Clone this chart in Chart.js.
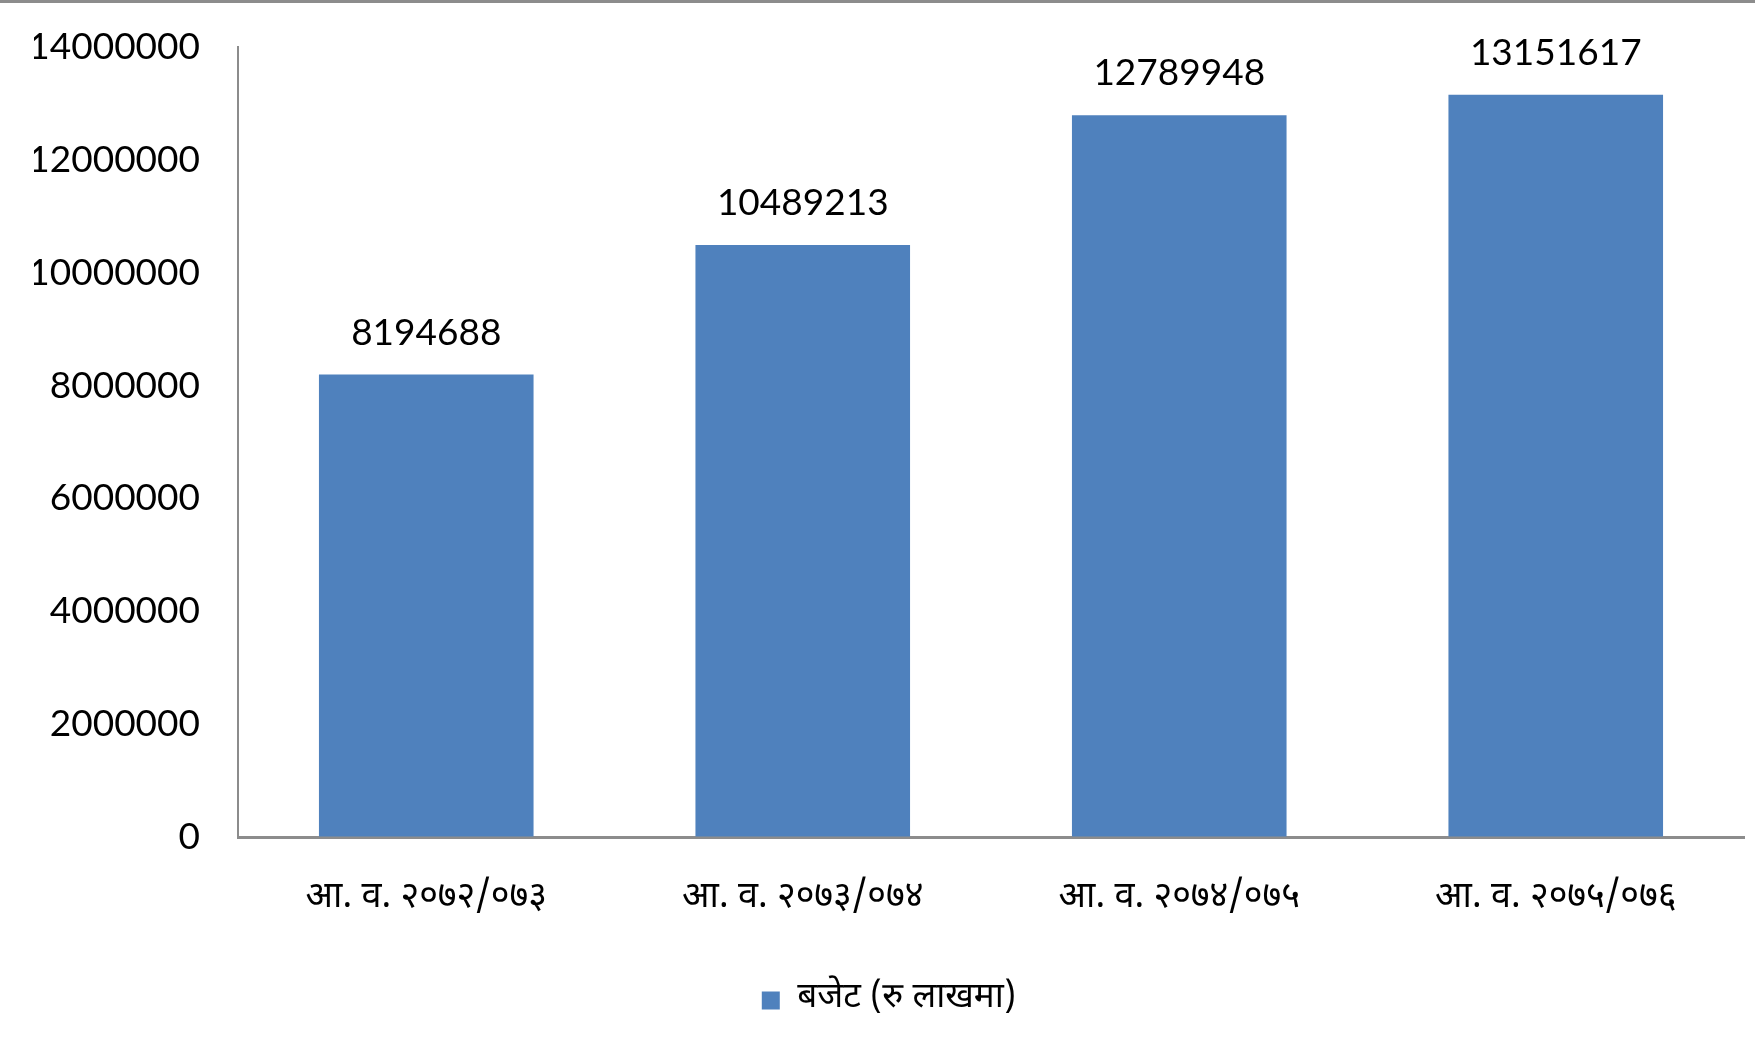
<!DOCTYPE html>
<html>
<head>
<meta charset="utf-8">
<script src="https://cdn.jsdelivr.net/npm/chart.js@4"></script>
<style>
    html, body { margin: 0; padding: 0; background: #fff; }
    #wrap { width: 1755px; height: 1044px; position: relative; box-sizing: border-box; border-top: 3px solid #8c8c8c; }
</style>
</head>
<body>
<div id="wrap"><canvas id="budgetChart" width="1755" height="1041"></canvas></div>
<script>
// values
const years = ['आ. व. २०७२/०७३', 'आ. व. २०७३/०७४', 'आ. व. २०७४/०७५', 'आ. व. २०७५/०७६'];
const budget = [8194688, 10489213, 12789948, 13151617];
const seriesName = 'बजेट (रु लाखमा)';
const yTicks = [0, 2000000, 4000000, 6000000, 8000000, 10000000, 12000000, 14000000];

const numFont = { family: 'Lato, "Open Sans", sans-serif', size: 37 };
const devFont = { family: '"Noto Sans Devanagari", "Noto Sans", sans-serif', size: 36 };
const legendFont = { family: '"Noto Sans Devanagari", "Noto Sans", sans-serif', size: 35 };

// draws the value above each bar
const barValues = {
    id: 'barValues',
    afterDatasetsDraw(chart) {
        const ctx = chart.ctx;
        const meta = chart.getDatasetMeta(0);
        ctx.save();
        ctx.font = numFont.size + 'px ' + numFont.family;
        ctx.fillStyle = '#000';
        ctx.textAlign = 'center';
        ctx.textBaseline = 'middle';
        meta.data.forEach(function (bar, i) {
            ctx.fillText(String(budget[i]), bar.x, bar.y - 42);
        });
        ctx.restore();
    }
};

document.addEventListener('DOMContentLoaded', function () {
    const ctx = document.getElementById('budgetChart').getContext('2d');
    new Chart(ctx, {
        type: 'bar',
        data: {
            labels: years,
            datasets: [{
                label: seriesName,
                data: budget,
                backgroundColor: '#4f81bd',
                borderWidth: 0,
                categoryPercentage: 1,
                barPercentage: 0.57
            }]
        },
        options: {
            responsive: false,
            animation: false,
            devicePixelRatio: 1,
            // left padding only nudges the centred legend, the y axis keeps its place
            layout: { padding: { top: 44, right: 11, left: 34, bottom: 16 } },
            plugins: {
                tooltip: { enabled: false },
                legend: {
                    position: 'bottom',
                    labels: {
                        color: '#000',
                        font: legendFont,
                        boxWidth: 18,
                        boxHeight: 18,
                        padding: 8
                    }
                }
            },
            scales: {
                x: {
                    grid: { display: false, drawTicks: false },
                    border: { display: true, color: '#8c8c8c', width: 3 },
                    ticks: { color: '#000', font: devFont, padding: 42, maxRotation: 0 },
                    afterFit: function (scale) { scale.height = 138; }
                },
                y: {
                    min: 0,
                    max: 14000000,
                    afterBuildTicks: function (scale) {
                        scale.ticks = yTicks.map(v => ({ value: v }));
                    },
                    // invisible tick marks give the gap between labels and axis
                    grid: { display: true, drawOnChartArea: false, drawTicks: true, tickLength: 38, color: 'rgba(0,0,0,0)' },
                    border: { display: true, color: '#8c8c8c', width: 2 },
                    ticks: {
                        color: '#000',
                        font: numFont,
                        padding: 0,
                        callback: function (value) { return String(value); }
                    },
                    afterFit: function (scale) { scale.width = 204; }
                }
            }
        },
        plugins: [barValues]
    });
});
</script>
</body>
</html>
